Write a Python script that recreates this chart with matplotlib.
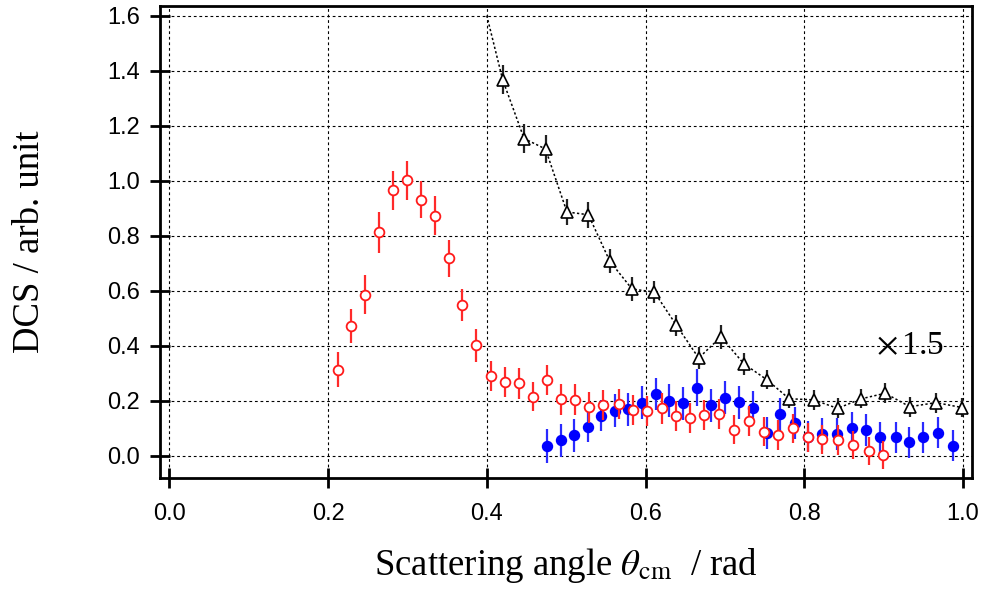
import matplotlib
matplotlib.use("Agg")
from matplotlib import pyplot as plt

# triangles: x1.5 scaled distribution, joined by a dotted guide line
TRI_X = [0.420, 0.447, 0.474, 0.501, 0.528, 0.555, 0.583, 0.611, 0.639, 0.667,
         0.695, 0.724, 0.753, 0.781, 0.812, 0.842, 0.872, 0.902, 0.933, 0.966,
         0.999]
TRI_Y = [1.367, 1.153, 1.115, 0.886, 0.876, 0.707, 0.606, 0.595, 0.474, 0.355,
         0.432, 0.334, 0.276, 0.207, 0.203, 0.172, 0.207, 0.227, 0.178, 0.193,
         0.175]
TRI_ERR = [0.053, 0.053, 0.051, 0.047, 0.047, 0.044, 0.042, 0.041, 0.038, 0.041,
           0.044, 0.039, 0.035, 0.035, 0.036, 0.036, 0.035, 0.036, 0.036, 0.036,
           0.035]
# guide line enters from the top edge
GUIDE_START = (0.400, 1.600)

# open red circles
RED_X = [0.212, 0.229, 0.247, 0.264, 0.282, 0.299, 0.317, 0.335, 0.352, 0.369,
         0.387, 0.405, 0.423, 0.441, 0.458, 0.476, 0.494, 0.511, 0.529, 0.547,
         0.566, 0.584, 0.602, 0.621, 0.639, 0.656, 0.674, 0.693, 0.711, 0.730,
         0.749, 0.767, 0.786, 0.805, 0.823, 0.842, 0.861, 0.881, 0.899]
RED_Y = [0.313, 0.472, 0.586, 0.812, 0.965, 1.001, 0.931, 0.872, 0.718, 0.547,
         0.401, 0.291, 0.269, 0.263, 0.215, 0.275, 0.205, 0.204, 0.176, 0.184,
         0.189, 0.165, 0.163, 0.172, 0.144, 0.136, 0.148, 0.152, 0.094, 0.126,
         0.087, 0.075, 0.100, 0.067, 0.060, 0.057, 0.039, 0.017, 0.003]
RED_ERR = [0.065, 0.061, 0.070, 0.075, 0.070, 0.070, 0.068, 0.071, 0.067, 0.059,
           0.059, 0.055, 0.055, 0.056, 0.053, 0.055, 0.056, 0.056, 0.057, 0.055,
           0.055, 0.055, 0.054, 0.055, 0.054, 0.054, 0.054, 0.054, 0.053, 0.054,
           0.053, 0.053, 0.053, 0.053, 0.053, 0.053, 0.052, 0.052, 0.052]

# filled blue circles
BLUE_X = [0.476, 0.493, 0.510, 0.527, 0.544, 0.561, 0.578, 0.595, 0.613, 0.630,
          0.647, 0.665, 0.683, 0.700, 0.718, 0.735, 0.753, 0.770, 0.788, 0.805,
          0.823, 0.841, 0.860, 0.878, 0.896, 0.915, 0.932, 0.950, 0.969, 0.988]
BLUE_Y = [0.034, 0.056, 0.075, 0.103, 0.146, 0.164, 0.169, 0.193, 0.224, 0.200,
          0.191, 0.247, 0.183, 0.211, 0.195, 0.175, 0.084, 0.151, 0.118, 0.069,
          0.079, 0.078, 0.100, 0.094, 0.067, 0.067, 0.049, 0.067, 0.084, 0.036]
BLUE_ERR = [0.062, 0.059, 0.060, 0.055, 0.058, 0.060, 0.060, 0.060, 0.059, 0.060,
            0.060, 0.067, 0.060, 0.060, 0.060, 0.060, 0.058, 0.060, 0.058, 0.057,
            0.058, 0.058, 0.058, 0.058, 0.057, 0.057, 0.057, 0.057, 0.057, 0.056]

X_TICKS = [0.0, 0.2, 0.4, 0.6, 0.8, 1.0]
Y_TICKS = [0.0, 0.2, 0.4, 0.6, 0.8, 1.0, 1.2, 1.4, 1.6]


def main():

    plt.rcParams['font.family'] = ['Liberation Serif', 'DejaVu Serif']
    plt.rcParams['mathtext.fontset'] = 'stix'

    fig = plt.figure(figsize=(9.86, 6.01), dpi=100)
    ax = fig.add_axes([0.1623, 0.2047, 0.8232, 0.7854])

    ax.set_xlim(-0.0117, 1.011)
    ax.set_ylim(-0.081, 1.635)
    ax.set_xticks(X_TICKS)
    ax.set_yticks(Y_TICKS)
    ax.set_xticklabels(['{:.1f}'.format(v) for v in X_TICKS],
                       family='Liberation Sans', fontsize=17)
    ax.set_yticklabels(['{:.1f}'.format(v) for v in Y_TICKS],
                       family='Liberation Sans', fontsize=17)
    ax.tick_params(direction='inout', length=14.4, width=2.0,
                   top=False, right=False)
    ax.tick_params(axis='x', pad=11)
    ax.tick_params(axis='y', pad=7)
    for spine in ax.spines.values():
        spine.set_linewidth(2.0)

    ax.grid(True, color='black', linewidth=0.8, dashes=(2.5, 2.5))
    ax.set_axisbelow(True)

    # dotted guide through the triangles
    ax.plot([GUIDE_START[0]] + TRI_X, [GUIDE_START[1]] + TRI_Y,
            color='black', linewidth=1.1, dashes=(1.5, 1.5), zorder=3)

    ax.errorbar(BLUE_X, BLUE_Y, yerr=BLUE_ERR, fmt='o', color='#0000ff',
                ecolor='#2a2aff', elinewidth=1.6, capsize=0, markersize=7.2,
                zorder=4)
    ax.errorbar(RED_X, RED_Y, yerr=RED_ERR, fmt='o', color='#ff1a1a',
                ecolor='#ff2a2a', elinewidth=1.6, capsize=0, markersize=7,
                markerfacecolor='white', markeredgewidth=1.3, zorder=5)
    ax.errorbar(TRI_X, TRI_Y, yerr=TRI_ERR, fmt='^', color='black',
                ecolor='#222222', elinewidth=1.6, capsize=0, markersize=9,
                markerfacecolor='white', markeredgewidth=1.2, zorder=6)

    ax.text(0.891, 0.40, r'$\times\,$1.5', fontsize=24, va='center',
            ha='left')

    ax.set_xlabel(r'Scattering angle $\theta_{\rm cm}$  / rad', fontsize=26.5,
                  labelpad=15)
    ax.set_ylabel('DCS / arb. unit', fontsize=26.5, va='center')
    ax.yaxis.set_label_coords(-0.16, 0.5)

    plt.savefig('out.png', dpi=100)


if __name__ == '__main__':

    main()
